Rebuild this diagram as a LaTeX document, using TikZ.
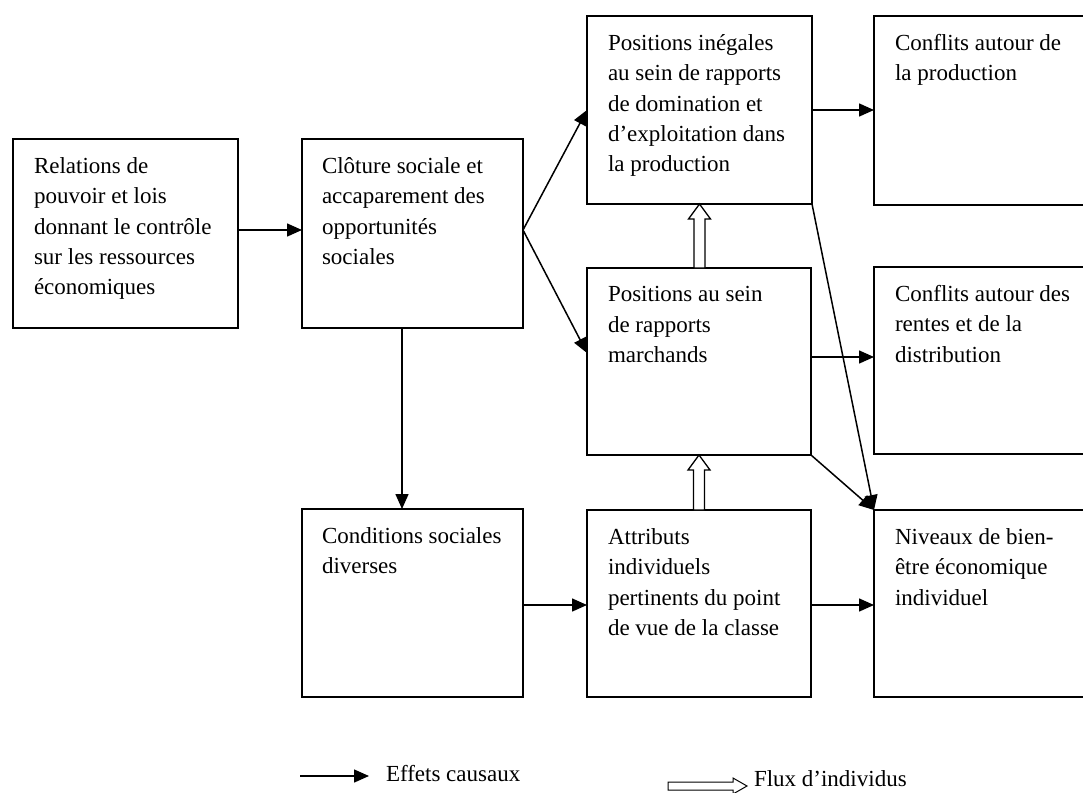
\documentclass[tikz,border=0pt]{standalone}
\usepackage{fontspec}
\setmainfont{Liberation Serif}
\usetikzlibrary{arrows.meta,calc}
\begin{document}
\begin{tikzpicture}[x=1pt,y=-1pt,
  box/.style={draw, line width=1.5pt, rectangle, inner sep=0pt, outer sep=0pt},
  txt/.style={inner sep=0pt, outer sep=0pt, align=left, font={\fontsize{23}{30.3}\selectfont}},
  arr/.style={line width=1.5pt, -{Triangle[length=15pt,width=13pt]}},
  hollow/.style={draw, fill=white, line width=1.3pt, line join=miter}
]
\useasboundingbox (0,0) rectangle (1083,792);
\clip (0,0) rectangle (1083,792);

% boxes
\node[box, minimum width=225, minimum height=189] (b1) at (125.5,233.5) {};
\node[box, minimum width=221, minimum height=189] (b2) at (412.5,233.5) {};
\node[box, minimum width=225, minimum height=188] (b3) at (699.5,110) {};
\node[box, minimum width=224, minimum height=187] (b4) at (699,361.5) {};
\node[box, minimum width=221, minimum height=188] (b5) at (412.5,603) {};
\node[box, minimum width=224, minimum height=187] (b6) at (699,603.5) {};
\node[box, minimum width=224, minimum height=189] (r1) at (986,110.5) {};
\node[box, minimum width=224, minimum height=187] (r2) at (986,360.5) {};
\node[box, minimum width=224, minimum height=187] (r3) at (986,603.5) {};

% texts
\node[txt, anchor=north west] (b1t) at ($(b1.north west)+(21,18.5)$) {Relations de\\pouvoir et lois\\donnant le contrôle\\sur les ressources\\économiques};
\node[txt, anchor=north west] (b2t) at ($(b2.north west)+(20,18.5)$) {Clôture sociale et\\accaparement des\\opportunités\\sociales};
\node[txt, anchor=north west] (b3t) at ($(b3.north west)+(21,18.5)$) {Positions inégales\\au sein de rapports\\de domination et\\d’exploitation dans\\la production};
\node[txt, anchor=north west] (b4t) at ($(b4.north west)+(21,18.5)$) {Positions au sein\\de rapports\\marchands};
\node[txt, anchor=north west] (b5t) at ($(b5.north west)+(20,18.5)$) {Conditions sociales\\diverses};
\node[txt, anchor=north west] (b6t) at ($(b6.north west)+(21,18.5)$) {Attributs\\individuels\\pertinents du point\\de vue de la classe};
\node[txt, anchor=north west] (r1t) at ($(r1.north west)+(21,18.5)$) {Conflits autour de\\la production};
\node[txt, anchor=north west] (r2t) at ($(r2.north west)+(21,18.5)$) {Conflits autour des\\rentes et de la\\distribution};
\node[txt, anchor=north west] (r3t) at ($(r3.north west)+(21,18.5)$) {Niveaux de bien-\\être économique\\individuel};

% causal arrows
\draw[arr] ($(b1.east)+(0,-3.5)$) -- ($(b2.west)+(0,-3.5)$);
\draw[arr] ($(b2.east)+(0,-3.5)$) -- (b3.west);
\draw[arr] ($(b2.east)+(0,-3.5)$) -- ($(b4.west)+(0,-8.5)$);
\draw[arr] (b3.east) -- (b3.east -| r1.west);
\draw[arr] ($(b4.east)+(0,-4.5)$) -- ($(r2.west)+(0,-3.5)$);
\draw[arr] (b3.south east) -- (r3.north west);
\draw[arr] (b4.south east) -- (r3.north west);
\draw[arr] ($(b2.south)+(-10.5,0)$) -- ($(b5.north)+(-10.5,0)$);
\draw[arr] ($(b5.east)+(0,2)$) -- ($(b6.west)+(0,1.5)$);
\draw[arr] ($(b6.east)+(0,1.5)$) -- ($(r3.west)+(0,1.5)$);

% flow (hollow) arrows
\draw[hollow] let \p1=(b4.north), \p2=(b3.south) in
  (\x2-5.5pt,\y1) -- (\x2-5.5pt,\y2-15pt) -- (\x2-11pt,\y2-15pt) -- (\p2)
  -- (\x2+11pt,\y2-15pt) -- (\x2+5.5pt,\y2-15pt) -- (\x2+5.5pt,\y1) -- cycle;
\draw[hollow] let \p1=(b6.north), \p2=(b4.south) in
  (\x2-5.5pt,\y1) -- (\x2-5.5pt,\y2-15pt) -- (\x2-11pt,\y2-15pt) -- (\p2)
  -- (\x2+11pt,\y2-15pt) -- (\x2+5.5pt,\y2-15pt) -- (\x2+5.5pt,\y1) -- cycle;

% legend
\coordinate (ca) at (300,776);
\coordinate (cb) at (369,776);
\draw[arr] (ca) -- (cb);
\node[txt, anchor=base west] (lg1) at (386,781) {Effets causaux};
\coordinate (fa) at (668,786);
\coordinate (fb) at (747,786);
\draw[hollow, line width=1pt] let \p1=(fa), \p2=(fb) in
  (\x1,\y2+4pt) -- (\x2-14pt,\y2+4pt) -- (\x2-14pt,\y2+8pt) -- (\p2)
  -- (\x2-14pt,\y2-8pt) -- (\x2-14pt,\y2-4pt) -- (\x1,\y2-4pt) -- cycle;
\node[txt, anchor=base west] (lg2) at (754,786) {Flux d’individus};
\end{tikzpicture}
\end{document}
